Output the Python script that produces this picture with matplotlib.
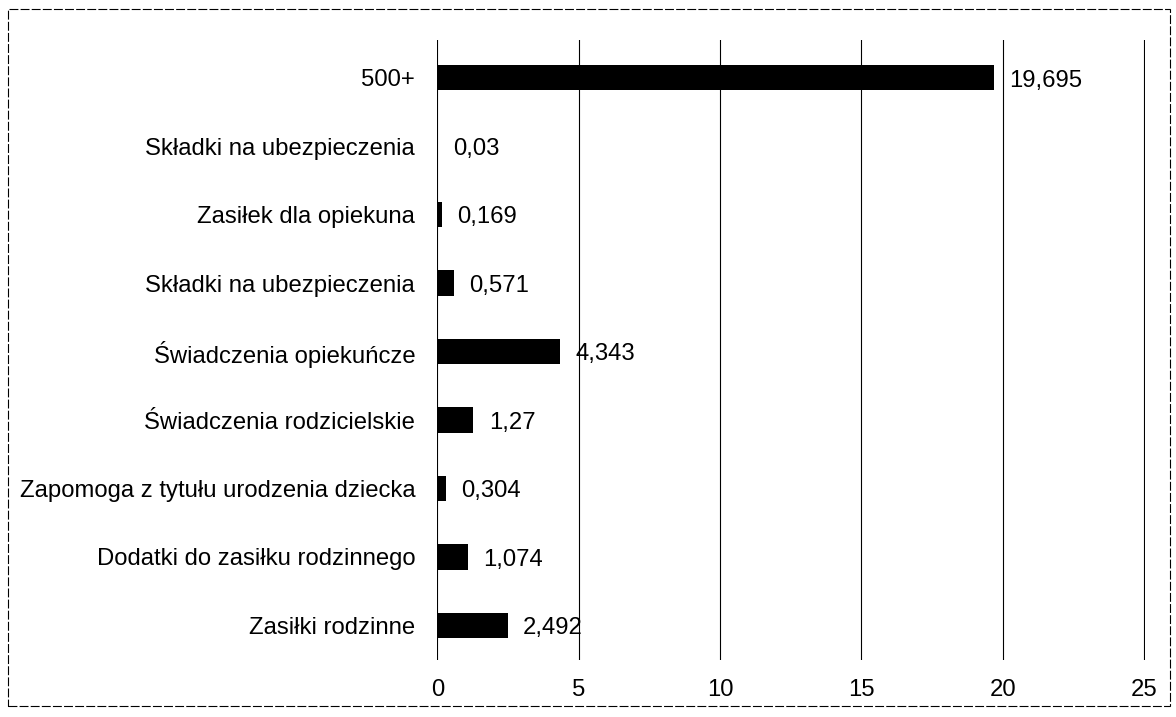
import numpy as np
import matplotlib.pyplot as plt
from matplotlib.patches import Rectangle

plt.rcParams['font.family'] = ['Liberation Sans', 'DejaVu Sans']

# dane (od dolu do gory)
kategorie = ['Zasiłki rodzinne',
             'Dodatki do zasiłku rodzinnego',
             'Zapomoga z tytułu urodzenia dziecka',
             'Świadczenia rodzicielskie',
             'Świadczenia opiekuńcze',
             'Składki na ubezpieczenia',
             'Zasiłek dla opiekuna',
             'Składki na ubezpieczenia',
             '500+']
wartosci = [2.492, 1.074, 0.304, 1.27, 4.343, 0.571, 0.169, 0.03, 19.695]
etykiety = ['2,492', '1,074', '0,304', '1,27', '4,343', '0,571', '0,169', '0,03', '19,695']
xticks = [0, 5, 10, 15, 20, 25]

fs = 17.2

fig = plt.figure(figsize=(11.76, 7.17), dpi=100)
ax = fig.add_axes([0.372, 0.08, 0.602, 0.864])

pos = np.arange(len(kategorie))
ax.barh(pos, wartosci, height=0.37, color='black', zorder=3)

for p, v, t in zip(pos, wartosci, etykiety):
    ax.annotate(t, (v, p), xytext=(11, -2), textcoords='offset points',
                va='center', ha='left', fontsize=fs)

ax.set_xlim(0, 25.05)
ax.set_ylim(-0.5, 8.55)
ax.set_xticks(xticks)
ax.set_xticklabels([str(x) for x in xticks], fontsize=fs)
ax.set_yticks(pos)
ax.set_yticklabels(kategorie, fontsize=fs)
ax.tick_params(length=0, pad=16)
ax.tick_params(axis='x', pad=14)
ax.grid(axis='x', color='black', linewidth=0.8, zorder=0)
for s in ax.spines.values():
    s.set_visible(False)

# ramka wokol rysunku
fig.patches.append(Rectangle((0.007, 0.015), 0.988, 0.973, transform=fig.transFigure,
                             fill=False, edgecolor='black', linewidth=0.8, linestyle=(0, (8, 2))))

fig.savefig('out.png', dpi=100)
